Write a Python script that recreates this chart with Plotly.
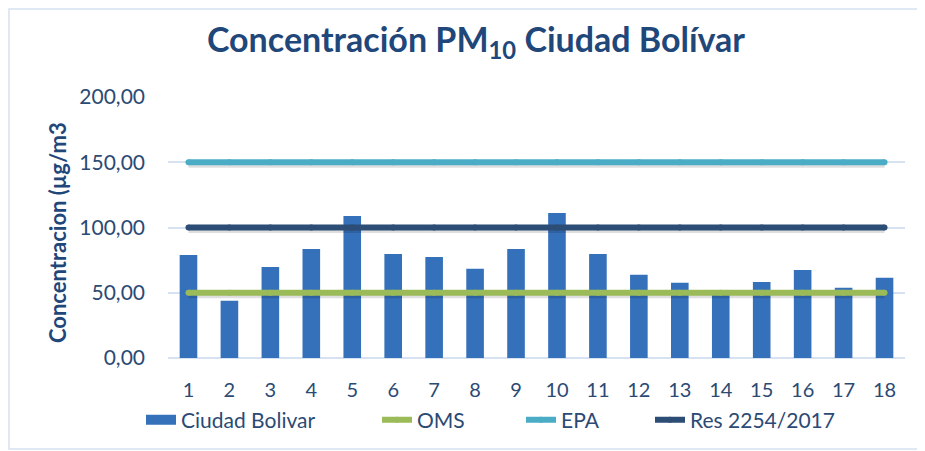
import plotly.graph_objects as go

categories = [str(i) for i in range(1, 19)]
ciudad_bolivar = [79.0, 43.8, 69.8, 83.6, 108.8, 79.7, 77.4, 68.3, 83.6,
                  111.1, 79.7, 63.7, 57.6, 48.5, 58.3, 67.5, 53.8, 61.4]
oms = [50] * 18
epa = [150] * 18
res_2254 = [100] * 18
y_ticks = [0, 50, 100, 150, 200]

FONT = "Lato"
TXT = "#2B4A74"
BAR = "#3570BA"

fig = go.Figure()
fig.add_trace(go.Bar(x=categories, y=ciudad_bolivar, name="Ciudad Bolivar",
                     marker=dict(color=BAR, line=dict(width=0)),
                     showlegend=False))
# legend swatch for the bar series (wide rectangle like the reference)
fig.add_trace(go.Scatter(x=[None], y=[None], mode="lines", name="Ciudad Bolivar",
                         line=dict(color=BAR, width=14), legend="legend"))

def add_line(vals, name, color, leg):
    fig.add_trace(go.Scatter(x=categories, y=[v - 1.6 for v in vals], mode="lines",
                             line=dict(color="rgba(0,0,0,0.13)", width=7),
                             showlegend=False, hoverinfo="skip"))
    fig.add_trace(go.Scatter(x=categories, y=vals, name=name, mode="lines+markers",
                             line=dict(color=color, width=6),
                             marker=dict(color=color, size=6, line=dict(width=0)),
                             legend=leg))

add_line(oms, "OMS", "#9BBB59", "legend2")
add_line(epa, "EPA", "#4BACC6", "legend3")
add_line(res_2254, "Res 2254/2017", "#2C4D75", "legend4")

OFF = 8  # page body margin
W, H = 925 - OFF, 451 - OFF
L = 168 - OFF
R = W - (905 - OFF)
T = 97 - OFF
B = H - (358 - OFF)
pw, ph = W - L - R, H - T - B

def px(x):
    return (x - OFF - L) / pw

def py(y):
    return (H - B - (y - OFF)) / ph

leg_font = dict(family=FONT, size=21, color=TXT)
def leg(x):
    return dict(x=px(x), y=py(420), xanchor="left", yanchor="middle",
                orientation="h", font=leg_font, bgcolor="rgba(0,0,0,0)",
                itemwidth=30, tracegroupgap=0)

fig.update_layout(
    width=W, height=H,
    margin=dict(l=L, r=R, t=T, b=B, autoexpand=False),
    paper_bgcolor="white", plot_bgcolor="white",
    separators=",.",
    bargap=0.57,
    title=dict(text="<b>Concentración PM<sub>10</sub> Ciudad Bolívar</b>",
               font=dict(family=FONT, size=34, color="#1F477A"),
               x=px(476), xref="paper", xanchor="center",
               y=1 - (40 - OFF) / H, yref="container", yanchor="middle"),
    xaxis=dict(type="category", range=[-0.5, 17.5], showgrid=False,
               showline=False, ticks="",
               tickfont=dict(family=FONT, size=20, color=TXT),
               ticklabelstandoff=18),
    yaxis=dict(range=[0, 200], tickvals=y_ticks, tickformat=".2f",
               showgrid=True, gridcolor="#D6E1F1", gridwidth=1.5,
               zeroline=True, zerolinecolor="#D6E1F1", zerolinewidth=1.5,
               showline=False, ticks="",
               tickfont=dict(family=FONT, size=21, color=TXT),
               ticklabelstandoff=22),
    legend=leg(141),
    legend2=leg(377),
    legend3=leg(521),
    legend4=leg(650),
    annotations=[dict(text="<b>Concentracion (µg/m3</b>", textangle=-90,
                      x=px(57), y=py(233), xref="paper", yref="paper",
                      xanchor="center", yanchor="middle", showarrow=False,
                      font=dict(family=FONT, size=22, color="#1F477A"))],
    shapes=[dict(type="rect", xref="paper", yref="paper",
                 x0=px(9), x1=px(940), y0=py(449), y1=py(9),
                 line=dict(color="#D6E1F1", width=1.5), layer="below")],
)

fig.write_html("out.html")
